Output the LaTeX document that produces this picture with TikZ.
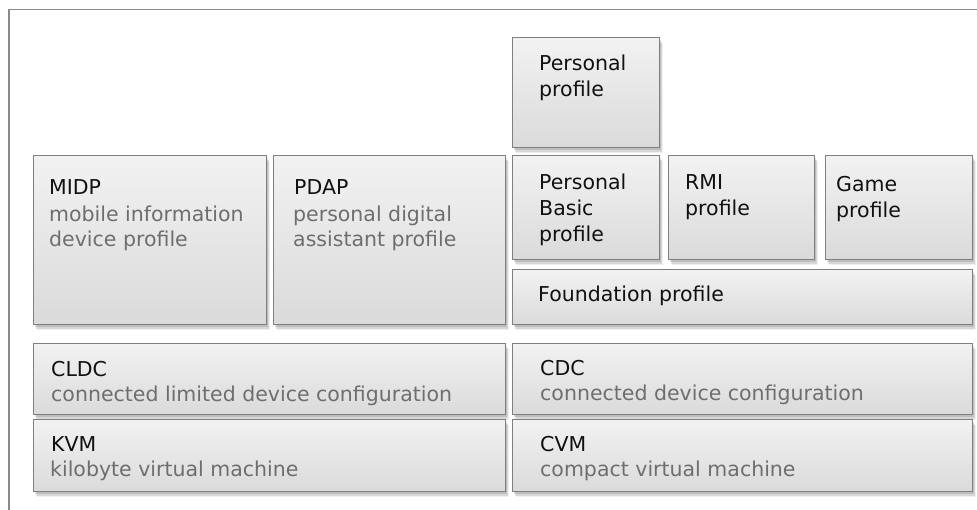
\documentclass[tikz,border=0pt]{standalone}
\usepackage{fontspec}
\setmainfont{DejaVu Sans}
\usetikzlibrary{shadows,calc}
\definecolor{edge}{HTML}{7F7F7F}
\definecolor{frame}{HTML}{8A8A8A}
\definecolor{subtxt}{HTML}{6E6E6E}
\definecolor{titletxt}{HTML}{111111}
\definecolor{filltop}{HTML}{F2F2F2}
\definecolor{fillbot}{HTML}{DADADA}
\tikzset{
  boxst/.style={draw=edge, line width=1.3pt, top color=filltop, bottom color=fillbot,
    inner sep=0pt, anchor=north west,
    general shadow={shadow xshift=1.5pt, shadow yshift=-2.5pt, fill=black, opacity=0.12},
    general shadow={shadow xshift=2.5pt, shadow yshift=-4pt, fill=black, opacity=0.10},
    general shadow={shadow xshift=3.5pt, shadow yshift=-5.5pt, fill=black, opacity=0.06}},
  lbl/.style={anchor=base west, inner sep=0pt, align=left, font=\fontsize{20.5pt}{26pt}\selectfont, text=titletxt},
  sub/.style={anchor=base west, inner sep=0pt, align=left, font=\fontsize{20.5pt}{25pt}\selectfont, text=subtxt},
}
\newcommand{\mybox}[5]{\node[boxst, minimum width={#4pt-#2pt}, minimum height={#5pt-#3pt}] (#1) at (#2,#3) {};}
\begin{document}
\begin{tikzpicture}[x=1pt,y=-1pt]
\useasboundingbox (0,0) rectangle (977,509);
\fill[white] (0,0) rectangle (977,509);
\draw[frame, line width=1.7pt] (9.2,515) -- (9.2,9.5) -- (985,9.5);
% boxes
\mybox{pp}{512}{37}{659}{147}
\mybox{midp}{33}{155}{266}{324}
\mybox{pdap}{273}{155}{505}{324}
\mybox{pbp}{512}{155}{659}{259}
\mybox{rmi}{668}{155}{814}{259}
\mybox{game}{825}{155}{972}{259}
\mybox{fp}{512}{269}{972}{324}
\mybox{cldc}{33}{343}{505}{414}
\mybox{kvm}{33}{419}{505}{491}
\mybox{cdc}{512}{343}{972}{414}
\mybox{cvm}{512}{419}{972}{491}
% texts (base anchor = baseline of the last line)
\node[lbl] (tpp) at ($(pp.north west)+(27,59)$) {Personal\\profile};
\node[lbl] (tmidp) at ($(midp.north west)+(16,39)$) {MIDP};
\node[sub] (smidp) at ($(midp.north west)+(16,91.7)$) {mobile information\\device profile};
\node[lbl] (tpdap) at ($(pdap.north west)+(21,39)$) {PDAP};
\node[sub] (spdap) at ($(pdap.north west)+(20,91.7)$) {personal digital\\assistant profile};
\node[lbl] (tpbp) at ($(pbp.north west)+(27,86.7)$) {Personal\\Basic\\profile};
\node[lbl] (trmi) at ($(rmi.north west)+(17,60)$) {RMI\\profile};
\node[lbl] (tgame) at ($(game.north west)+(11,62.7)$) {Game\\profile};
\node[lbl] (tfp) at ($(fp.north west)+(26,32)$) {Foundation profile};
\node[lbl] (tcldc) at ($(cldc.north west)+(18,33)$) {CLDC};
\node[sub] (scldc) at ($(cldc.north west)+(18,58.7)$) {connected limited device configuration};
\node[lbl] (tkvm) at ($(kvm.north west)+(18,32.7)$) {KVM};
\node[sub] (skvm) at ($(kvm.north west)+(17,57.7)$) {kilobyte virtual machine};
\node[lbl] (tcdc) at ($(cdc.north west)+(28,32)$) {CDC};
\node[sub] (scdc) at ($(cdc.north west)+(28,57)$) {connected device configuration};
\node[lbl] (tcvm) at ($(cvm.north west)+(28,32.7)$) {CVM};
\node[sub] (scvm) at ($(cvm.north west)+(28,57.7)$) {compact virtual machine};
\end{tikzpicture}
\end{document}
